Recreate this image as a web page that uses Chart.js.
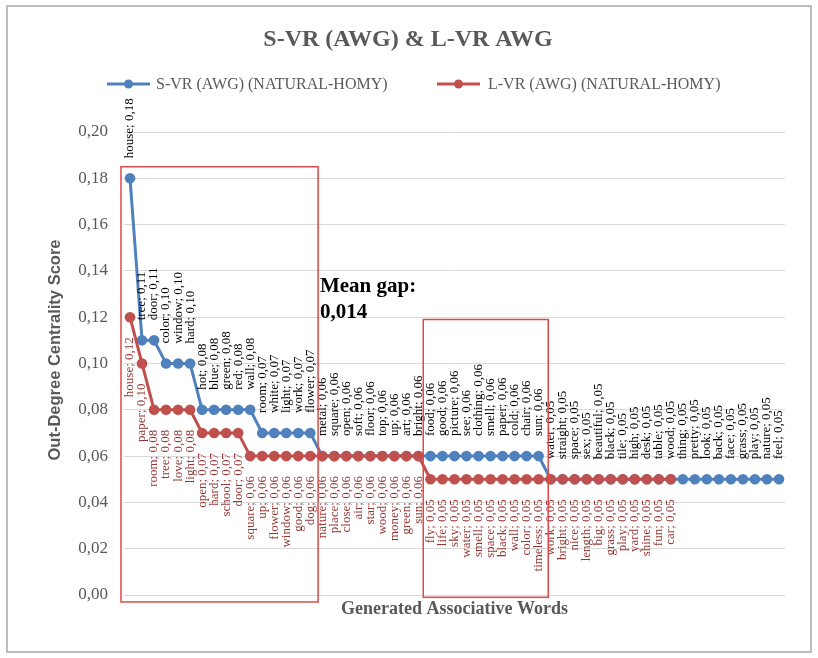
<!DOCTYPE html>
<html>
<head>
<meta charset="utf-8">
<script src="https://cdn.jsdelivr.net/npm/chart.js@4.4.1/dist/chart.umd.min.js"></script>
<style>
  html, body { margin: 0; padding: 0; background: #fff; }
  #wrap { width: 818px; height: 658px; }
</style>
</head>
<body>
<div id="wrap"><canvas id="chart" width="818" height="658"></canvas></div>
<script>
// S-VR (AWG) series, in rank order
const svrWords = ["house", "tree", "door", "color", "window", "hard", "hot", "blue", "green", "red", "wall",
  "room", "white", "light", "work", "flower", "metal", "square", "open", "soft", "floor", "top", "up", "art",
  "bright", "food", "good", "picture", "see", "clothing", "smell", "paper", "cold", "chair", "sun", "water",
  "straight", "space", "sex", "beautiful", "black", "tile", "high", "desk", "table", "wood", "thing", "pretty",
  "look", "back", "face", "grass", "play", "nature", "feel"];
const svrValues = [0.18, 0.11, 0.11, 0.10, 0.10, 0.10, 0.08, 0.08, 0.08, 0.08, 0.08,
  0.07, 0.07, 0.07, 0.07, 0.07, 0.06, 0.06, 0.06, 0.06, 0.06, 0.06, 0.06, 0.06,
  0.06, 0.06, 0.06, 0.06, 0.06, 0.06, 0.06, 0.06, 0.06, 0.06, 0.06, 0.05,
  0.05, 0.05, 0.05, 0.05, 0.05, 0.05, 0.05, 0.05, 0.05, 0.05, 0.05, 0.05,
  0.05, 0.05, 0.05, 0.05, 0.05, 0.05, 0.05];

// L-VR (AWG) series, in rank order
const lvrWords = ["house", "paper", "room", "tree", "love", "light", "open", "hard", "school", "door",
  "square", "up", "flower", "window", "good", "dog", "nature", "place", "close", "air", "star", "wood",
  "money", "green", "sun", "fly", "life", "sky", "water", "smell", "space", "black", "wall", "color",
  "timeless", "work", "bright", "nice", "length", "big", "grass", "play", "yard", "shine", "fun", "car"];
const lvrValues = [0.12, 0.10, 0.08, 0.08, 0.08, 0.08, 0.07, 0.07, 0.07, 0.07,
  0.06, 0.06, 0.06, 0.06, 0.06, 0.06, 0.06, 0.06, 0.06, 0.06, 0.06, 0.06,
  0.06, 0.06, 0.06, 0.05, 0.05, 0.05, 0.05, 0.05, 0.05, 0.05, 0.05, 0.05,
  0.05, 0.05, 0.05, 0.05, 0.05, 0.05, 0.05, 0.05, 0.05, 0.05, 0.05, 0.05];

const ranks = svrWords.map((_, i) => i + 1);

const yTicksMin = 0;
const yTicksMax = 0.2;
const yTicksStep = 0.02;

// highlighted regions, in axis units (category index / score)
const highlightBoxes = [
  { from: -0.75, to: 15.65, top: 0.185, bottom: -0.003 },
  { from: 24.4, to: 34.8, top: 0.119, bottom: -0.001 }
];
const meanGapNote = { at: 15.8, value: 0.131, lines: ["Mean gap:", "0,014"] };

const BLUE = "#4F81BD";
const RED = "#C0504D";
const GREY = "#595959";
const SERIF = "'Liberation Serif', 'Times New Roman', serif";
const SANS = "'Liberation Sans', Arial, sans-serif";

function fmt(v) {
  return v.toFixed(2).replace(".", ",");
}

function drawPointLabels(ctx, chart, idx, words, values, color, above) {
  const meta = chart.getDatasetMeta(idx);
  ctx.save();
  ctx.font = "13px " + SERIF;
  ctx.fillStyle = color;
  ctx.textBaseline = "middle";
  ctx.textAlign = above ? "left" : "right";
  meta.data.forEach((pt, i) => {
    ctx.save();
    ctx.translate(pt.x, pt.y + (above ? -20 : 20));
    ctx.rotate(-Math.PI / 2);
    ctx.fillText(words[i] + "; " + fmt(values[i]), 0, 0);
    ctx.restore();
  });
  ctx.restore();
}

const extras = {
  id: "extras",
  beforeDraw(chart) {
    const ctx = chart.ctx;
    ctx.save();
    ctx.fillStyle = "#fff";
    ctx.fillRect(0, 0, chart.width, chart.height);
    ctx.strokeStyle = "#a6a6a6";
    ctx.lineWidth = 1.5;
    ctx.strokeRect(7, 6, 804, 646);
    ctx.restore();
  },
  afterDatasetsDraw(chart) {
    const ctx = chart.ctx;
    drawPointLabels(ctx, chart, 0, svrWords, svrValues, "#000", true);
    drawPointLabels(ctx, chart, 1, lvrWords, lvrValues, "#953735", false);
  },
  afterDraw(chart) {
    const ctx = chart.ctx;
    const xs = chart.scales.x;
    const ys = chart.scales.y;
    ctx.save();

    // title
    ctx.fillStyle = GREY;
    ctx.font = "bold 24px " + SERIF;
    ctx.textAlign = "center";
    ctx.textBaseline = "middle";
    ctx.fillText("S-VR (AWG) & L-VR AWG", 408, 40);

    // y axis title
    ctx.save();
    ctx.translate(55, 350);
    ctx.rotate(-Math.PI / 2);
    ctx.font = "bold 16.5px " + SANS;
    ctx.fillText("Out-Degree Centrality Score", 0, 0);
    ctx.restore();

    // legend
    const items = [
      { x: 107, gap: 49, color: BLUE, text: chart.data.datasets[0].label },
      { x: 437, gap: 51, color: RED, text: chart.data.datasets[1].label }
    ];
    ctx.font = "16px " + SERIF;
    ctx.textAlign = "left";
    items.forEach(it => {
      ctx.strokeStyle = it.color;
      ctx.lineWidth = 3;
      ctx.beginPath();
      ctx.moveTo(it.x, 84);
      ctx.lineTo(it.x + 43, 84);
      ctx.stroke();
      ctx.fillStyle = it.color;
      ctx.beginPath();
      ctx.arc(it.x + 21.5, 84, 4.5, 0, Math.PI * 2);
      ctx.fill();
      ctx.fillStyle = GREY;
      ctx.fillText(it.text, it.x + it.gap, 85);
    });

    // highlight boxes
    ctx.strokeStyle = "#E04848";
    ctx.lineWidth = 1.5;
    highlightBoxes.forEach(b => {
      const x1 = xs.getPixelForValue(b.from);
      const x2 = xs.getPixelForValue(b.to);
      const y1 = ys.getPixelForValue(b.top);
      const y2 = ys.getPixelForValue(b.bottom);
      ctx.strokeRect(x1, y1, x2 - x1, y2 - y1);
    });

    // mean gap note
    ctx.fillStyle = "#000";
    ctx.font = "bold 21px " + SERIF;
    ctx.textBaseline = "alphabetic";
    const nx = xs.getPixelForValue(meanGapNote.at);
    const ny = ys.getPixelForValue(meanGapNote.value);
    meanGapNote.lines.forEach((line, i) => ctx.fillText(line, nx, ny + i * 26));

    ctx.restore();
  }
};

new Chart(document.getElementById("chart"), {
  type: "line",
  data: {
    labels: ranks,
    datasets: [
      {
        label: "S-VR (AWG) (NATURAL-HOMY)",
        data: svrValues,
        borderColor: BLUE,
        backgroundColor: BLUE,
        borderWidth: 3,
        pointRadius: 5.3,
        pointBorderWidth: 0,
        tension: 0,
        fill: false,
        order: 1
      },
      {
        label: "L-VR (AWG) (NATURAL-HOMY)",
        data: lvrValues,
        borderColor: RED,
        backgroundColor: RED,
        borderWidth: 3,
        pointRadius: 5.3,
        pointBorderWidth: 0,
        tension: 0,
        fill: false,
        order: 0
      }
    ]
  },
  options: {
    responsive: false,
    animation: false,
    devicePixelRatio: 1,
    layout: {
      padding: { top: 132, left: 8, right: 33, bottom: 10 }
    },
    plugins: {
      legend: { display: false },
      title: { display: false },
      tooltip: { enabled: false }
    },
    scales: {
      x: {
        type: "category",
        offset: true,
        grid: { display: false },
        border: { display: false },
        ticks: { display: false },
        title: {
          display: true,
          text: "Generated Associative Words",
          color: GREY,
          font: { family: SERIF, size: 18, weight: "bold" },
          padding: { top: 0, bottom: 28 }
        },
        afterFit(scale) {
          scale.height = 53;
        }
      },
      y: {
        min: yTicksMin,
        max: yTicksMax,
        ticks: {
          stepSize: yTicksStep,
          padding: 16,
          color: GREY,
          font: { family: SERIF, size: 17 },
          callback: value => fmt(value)
        },
        grid: { color: "#d9d9d9", drawTicks: false },
        border: { display: false },
        afterFit(scale) {
          scale.width = 116;
        }
      }
    }
  },
  plugins: [extras]
});
</script>
</body>
</html>
